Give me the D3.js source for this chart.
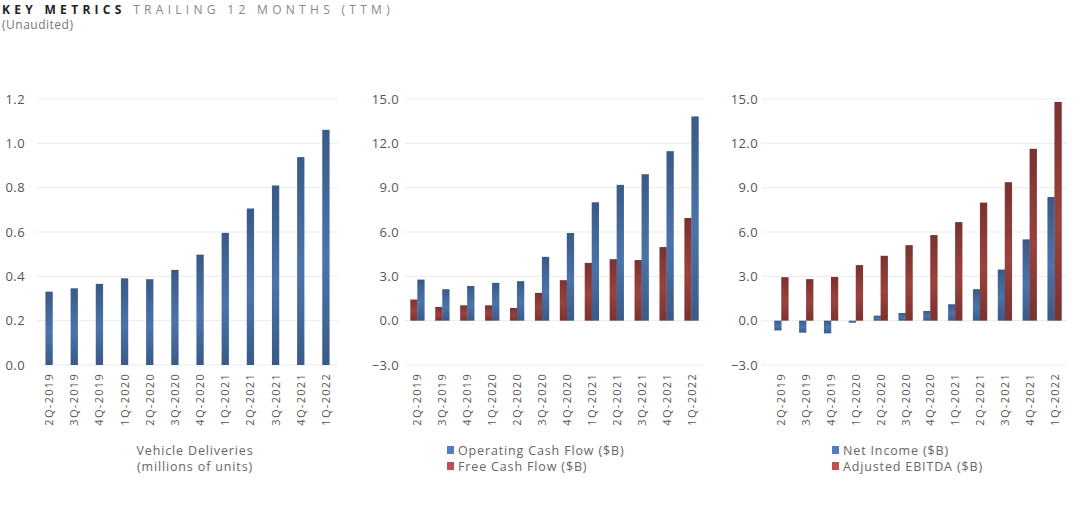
<!DOCTYPE html>
<html><head><meta charset="utf-8">
<script src="https://cdn.jsdelivr.net/npm/d3@7"></script>
<style>body{margin:0;background:#fff;}svg{display:block;font-family:"Open Sans",Lato,sans-serif;}</style>
</head><body><svg id="c" width="1080" height="515"></svg>
<script>
const quarters = ["2Q-2019","3Q-2019","4Q-2019","1Q-2020","2Q-2020","3Q-2020","4Q-2020","1Q-2021","2Q-2021","3Q-2021","4Q-2021","1Q-2022"];
const deliveries = [0.331,0.346,0.366,0.391,0.387,0.429,0.498,0.596,0.706,0.810,0.938,1.061];
const operatingCashFlow = [2.78,2.13,2.35,2.56,2.67,4.32,5.93,8.01,9.19,9.91,11.47,13.82];
const freeCashFlow = [1.43,0.93,1.04,1.04,0.86,1.88,2.74,3.91,4.16,4.10,4.98,6.95];
const netIncome = [-0.66,-0.81,-0.86,-0.14,0.34,0.52,0.66,1.11,2.13,3.46,5.50,8.37];
const adjustedEbitda = [2.94,2.81,2.96,3.76,4.39,5.11,5.79,6.67,7.99,9.37,11.63,14.80];
const ticks1 = [0,0.2,0.4,0.6,0.8,1.0,1.2];
const ticks2 = [-3,0,3,6,9,12,15];

const svg = d3.select("#c");
const defs = svg.append("defs");
function grad(id, dark, light){
  const g = defs.append("linearGradient").attr("id",id).attr("x1",0).attr("y1",0).attr("x2",0).attr("y2",1);
  g.append("stop").attr("offset","0%").attr("stop-color",dark);
  g.append("stop").attr("offset","55%").attr("stop-color",light);
  g.append("stop").attr("offset","100%").attr("stop-color",dark);
}
grad("gb","#3a5a88","#4b74ab");
grad("gr","#7a3230","#9a423d");

const t = svg.append("text").attr("x",2).attr("y",14).style("font-size","12px").style("letter-spacing","4.3px");
t.append("tspan").text("KEY METRICS").attr("font-weight","bold").attr("fill","#222");
t.append("tspan").text(" TRAILING 12 MONTHS (TTM)").attr("fill","#888");
svg.append("text").attr("x",2).attr("y",29).text("(Unaudited)").attr("fill","#777").style("font-size","12px").style("letter-spacing","0.5px");

function panel(o){
  const y = d3.scaleLinear().domain(o.domain).range([o.y0, 99]);
  const x = d3.scaleBand().domain(quarters).range([o.xs, o.xe]).paddingInner(0).paddingOuter(0);
  const g = svg.append("g");
  g.selectAll("line.grid").data(o.ticks).join("line")
    .attr("x1",o.gx0).attr("x2",o.gx1).attr("y1",d=>y(d)).attr("y2",d=>y(d))
    .attr("stroke","#ebebeb").attr("stroke-width",1);
  const ax = d3.axisLeft(y).tickValues(o.ticks).tickFormat(d3.format(".1f")).tickSize(0).tickPadding(0);
  const ag = g.append("g").attr("transform",`translate(${o.labX},0)`).call(ax);
  ag.select(".domain").remove();
  ag.selectAll("text").attr("fill","#555").style("font-size","13px").style("letter-spacing","0.4px").attr("font-family","'Open Sans',sans-serif");
  o.series.forEach((s,si)=>{
    g.selectAll(null).data(s.values).join("rect")
      .attr("x",(d,i)=>x(quarters[i]) + x.bandwidth()/2 + s.off - o.bw/2)
      .attr("width",o.bw)
      .attr("y",d=>Math.min(y(d),y(0)))
      .attr("height",d=>Math.abs(y(d)-y(0)))
      .attr("fill",`url(#${s.grad})`);
  });
  g.selectAll("text.xl").data(quarters).join("text")
    .attr("transform",d=>`translate(${x(d)+x.bandwidth()/2+4},373) rotate(-90)`)
    .attr("text-anchor","end").attr("fill","#555")
    .style("font-size","11px").style("letter-spacing","1.3px").text(d=>d);
}

panel({domain:[0,1.2], y0:365, ticks:ticks1, xs:36.5, xe:338.5, gx0:37, gx1:338, labX:25, bw:7.3,
  series:[{values:deliveries, off:0, grad:"gb"}]});
panel({domain:[-3,15], y0:365, ticks:ticks2, xs:405, xe:704, gx0:405, gx1:703, labX:399, bw:7.3,
  series:[{values:freeCashFlow, off:-3.5, grad:"gr"},{values:operatingCashFlow, off:3.5, grad:"gb"}]});
panel({domain:[-3,15], y0:365, ticks:ticks2, xs:769, xe:1067, gx0:762, gx1:1067, labX:758, bw:7.3,
  series:[{values:netIncome, off:-3.5, grad:"gb"},{values:adjustedEbitda, off:3.5, grad:"gr"}]});

const cap = svg.append("g").attr("fill","#666").style("font-size","12.5px").style("letter-spacing","0.85px");
cap.append("text").attr("x",195).attr("y",455).attr("text-anchor","middle").text("Vehicle Deliveries");
cap.append("text").attr("x",195).attr("y",471).attr("text-anchor","middle").text("(millions of units)");
const legends = [
  {x:447, items:[["Operating Cash Flow ($B)","#4f7dbf"],["Free Cash Flow ($B)","#c0504d"]]},
  {x:832, items:[["Net Income ($B)","#4f7dbf"],["Adjusted EBITDA ($B)","#c0504d"]]}
];
legends.forEach(l=>{
  l.items.forEach((it,i)=>{
    cap.append("rect").attr("x",l.x).attr("y",446+i*16).attr("width",7).attr("height",8).attr("fill",it[1]);
    cap.append("text").attr("x",l.x+11).attr("y",455+i*16).text(it[0]);
  });
});
</script></body></html>
